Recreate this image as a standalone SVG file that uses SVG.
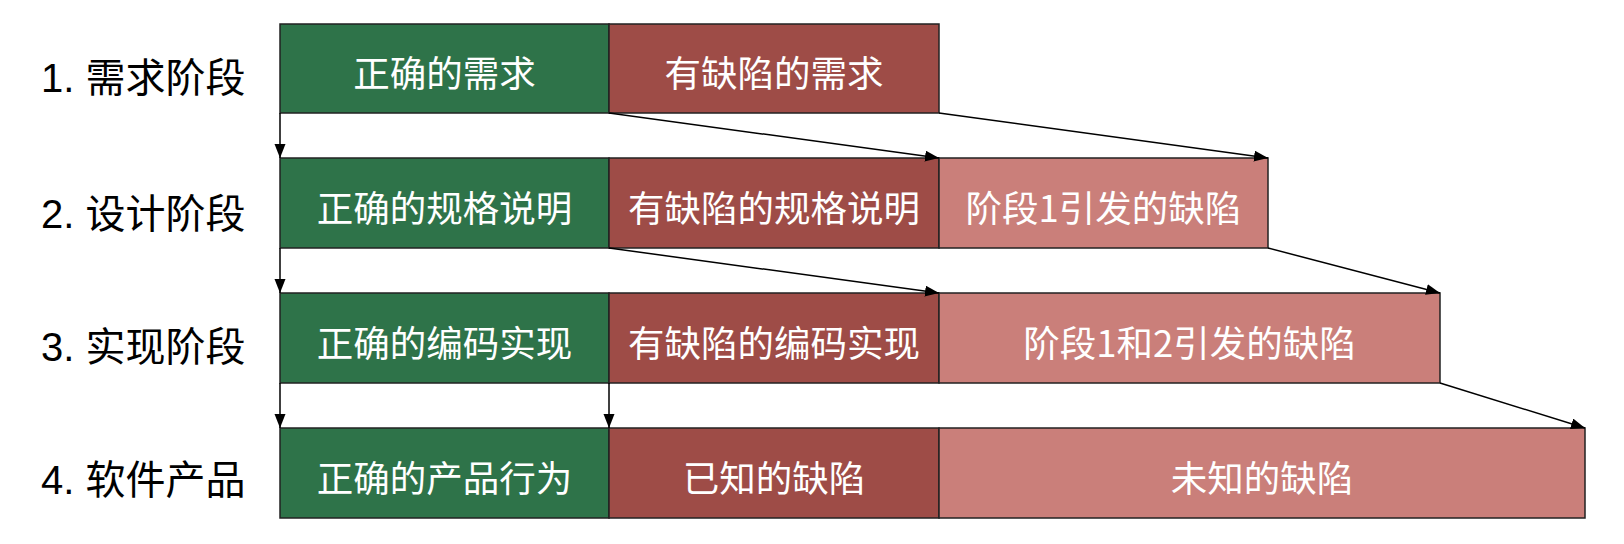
<svg xmlns="http://www.w3.org/2000/svg" width="1624" height="544" viewBox="0 0 1624 544">
<style>
.lbl{font-family:"Liberation Sans","Noto Sans CJK SC",sans-serif;font-size:40px;fill:#000;dominant-baseline:central}
.t{font-family:"Noto Sans CJK SC",sans-serif;font-size:36.5px;fill:#fff;text-anchor:middle;dominant-baseline:central}
.g{fill:#2e7349;stroke:#222;stroke-width:1.5}
.r{fill:#9e4c47;stroke:#222;stroke-width:1.5}
.p{fill:#ca7f7a;stroke:#222;stroke-width:1.5}
.c{stroke:#000;stroke-width:1.5;fill:none;marker-end:url(#ah)}
</style>
<defs>
<marker id="ah" markerUnits="userSpaceOnUse" markerWidth="15" markerHeight="12" refX="14" refY="5.5" orient="auto">
<path d="M0,0 L14,5.5 L0,11 Z" fill="#000"/>
</marker>
</defs>
<g id="labels">
<text class="lbl" x="41" y="78">1. 需求阶段</text>
<text class="lbl" x="41" y="214">2. 设计阶段</text>
<text class="lbl" x="41" y="347">3. 实现阶段</text>
<text class="lbl" x="41" y="480">4. 软件产品</text>
</g>
<g id="row1">
<rect class="g" x="280" y="24" width="329" height="89"/>
<text class="t" x="444.5" y="71">正确的需求</text>
<rect class="r" x="609" y="24" width="330" height="89"/>
<text class="t" x="774" y="71">有缺陷的需求</text>
</g>
<g id="row2">
<rect class="g" x="280" y="158" width="329" height="90"/>
<text class="t" x="444.5" y="206">正确的规格说明</text>
<rect class="r" x="609" y="158" width="330" height="90"/>
<text class="t" x="774" y="206">有缺陷的规格说明</text>
<rect class="p" x="939" y="158" width="329" height="90"/>
<text class="t" x="1103.5" y="206">阶段1引发的缺陷</text>
</g>
<g id="row3">
<rect class="g" x="280" y="293" width="329" height="90"/>
<text class="t" x="444.5" y="341">正确的编码实现</text>
<rect class="r" x="609" y="293" width="330" height="90"/>
<text class="t" x="774" y="341">有缺陷的编码实现</text>
<rect class="p" x="939" y="293" width="501" height="90"/>
<text class="t" x="1189.5" y="341">阶段1和2引发的缺陷</text>
</g>
<g id="row4">
<rect class="g" x="280" y="428" width="329" height="90"/>
<text class="t" x="444.5" y="476">正确的产品行为</text>
<rect class="r" x="609" y="428" width="330" height="90"/>
<text class="t" x="774" y="476">已知的缺陷</text>
<rect class="p" x="939" y="428" width="646" height="90"/>
<text class="t" x="1262" y="476">未知的缺陷</text>
</g>
<g id="connectors">
<line class="c" x1="280" y1="113" x2="280" y2="158"/>
<line class="c" x1="609" y1="113" x2="939" y2="158"/>
<line class="c" x1="939" y1="113" x2="1268" y2="158"/>
<line class="c" x1="280" y1="248" x2="280" y2="293"/>
<line class="c" x1="609" y1="248" x2="939" y2="293"/>
<line class="c" x1="1268" y1="248" x2="1440" y2="293"/>
<line class="c" x1="280" y1="383" x2="280" y2="428"/>
<line class="c" x1="609" y1="383" x2="609" y2="428"/>
<line class="c" x1="1440" y1="383" x2="1585" y2="428"/>
</g>
</svg>
